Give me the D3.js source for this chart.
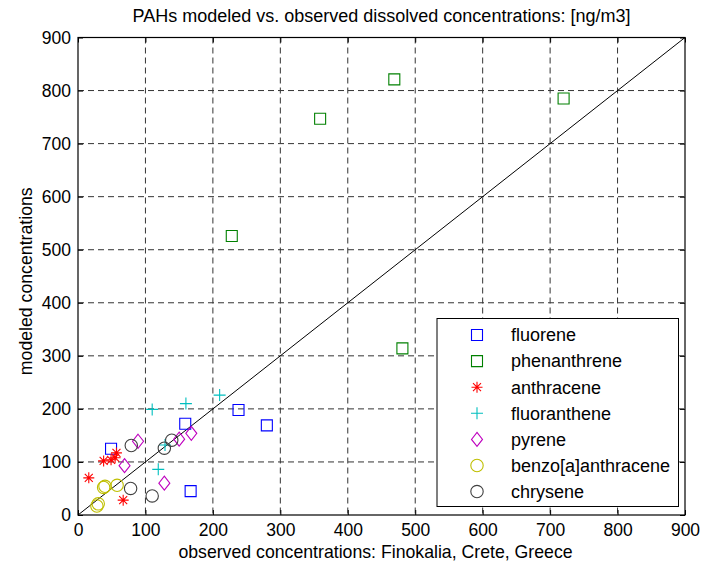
<!DOCTYPE html>
<html>
<head>
<meta charset="utf-8">
<script src="https://cdn.jsdelivr.net/npm/d3@7"></script>
<style>
  body { margin: 0; background: #fff; }
  svg { font-family: "Liberation Sans", Arial, sans-serif; display: block; }
  .tick text { font-size: 17.5px; fill: #000; }
</style>
</head>
<body>
<svg width="701" height="567"></svg>
<script>
// observed (x) vs modeled (y), ng/m3
const fluoreneX = [49, 159, 238, 280, 167];
const fluoreneY = [125, 172, 198, 169, 45];
const phenanthreneX = [228, 359, 469, 720, 481];
const phenanthreneY = [526, 747, 821, 785, 314];
const anthraceneX = [16, 38, 49, 55, 57, 67];
const anthraceneY = [70, 102, 104, 108, 117, 28];
const fluorantheneX = [110, 160, 210, 119, 129];
const fluorantheneY = [199, 210, 226, 86, 132];
const pyreneX = [89, 69, 128, 150, 168];
const pyreneY = [139, 93, 60, 143, 154];
const benzoX = [28, 30, 38, 40, 58];
const benzoY = [17, 21, 52, 54, 56];
const chryseneX = [79, 78, 110, 128, 139];
const chryseneY = [131, 50, 36, 126, 141];

const ticks = [0, 100, 200, 300, 400, 500, 600, 700, 800, 900];

// custom marker shapes in matlab style
const diamond = { draw(ctx) { ctx.moveTo(0, -7); ctx.lineTo(5.5, 0); ctx.lineTo(0, 7); ctx.lineTo(-5.5, 0); ctx.closePath(); } };
const square = { draw(ctx) { ctx.rect(-5.5, -5.5, 11, 11); } };
const circle = { draw(ctx) { ctx.moveTo(6.2, 0); ctx.arc(0, 0, 6.2, 0, 2 * Math.PI); } };
const plus = { draw(ctx) { ctx.moveTo(-6, 0); ctx.lineTo(6, 0); ctx.moveTo(0, -6); ctx.lineTo(0, 6); } };
const star = { draw(ctx) {
  ctx.moveTo(-5.5, 0); ctx.lineTo(5.5, 0); ctx.moveTo(0, -5.5); ctx.lineTo(0, 5.5);
  ctx.moveTo(-4, -4); ctx.lineTo(4, 4); ctx.moveTo(-4, 4); ctx.lineTo(4, -4);
} };

const series = [
  { name: "fluorene", x: fluoreneX, y: fluoreneY, color: "#0000ff", shape: square },
  { name: "phenanthrene", x: phenanthreneX, y: phenanthreneY, color: "#008000", shape: square },
  { name: "anthracene", x: anthraceneX, y: anthraceneY, color: "#ff0000", shape: star },
  { name: "fluoranthene", x: fluorantheneX, y: fluorantheneY, color: "#00bfbf", shape: plus },
  { name: "pyrene", x: pyreneX, y: pyreneY, color: "#bf00bf", shape: diamond },
  { name: "benzo[a]anthracene", x: benzoX, y: benzoY, color: "#bfbf00", shape: circle },
  { name: "chrysene", x: chryseneX, y: chryseneY, color: "#404040", shape: circle }
];

const svg = d3.select("svg"),
    mLeft = 78, mRight = 685, mTop = 37.5, mBottom = 515;

const x = d3.scaleLinear().domain([0, 900]).range([mLeft, mRight]);
const y = d3.scaleLinear().domain([0, 900]).range([mBottom, mTop]);

// grid
const grid = svg.append("g").attr("stroke", "#333").attr("stroke-dasharray", "6,4").attr("stroke-width", 1);
grid.selectAll("line.v").data(ticks.slice(1, -1)).enter().append("line")
    .attr("x1", d => x(d)).attr("x2", d => x(d)).attr("y1", mTop).attr("y2", mBottom);
grid.selectAll("line.h").data(ticks.slice(1, -1)).enter().append("line")
    .attr("y1", d => y(d)).attr("y2", d => y(d)).attr("x1", mLeft).attr("x2", mRight);

// 1:1 line
svg.append("line")
    .attr("x1", x(0)).attr("y1", y(0)).attr("x2", x(900)).attr("y2", y(900))
    .attr("stroke", "#000").attr("stroke-width", 1);

// axes, ticks inward
svg.append("g").attr("transform", `translate(0,${mBottom})`)
    .call(d3.axisBottom(x).tickValues(ticks).tickSizeInner(-5).tickSizeOuter(0).tickPadding(9))
    .call(g => g.select(".domain").remove());
svg.append("g").attr("transform", `translate(${mLeft},0)`)
    .call(d3.axisLeft(y).tickValues(ticks).tickSizeInner(-5).tickSizeOuter(0).tickPadding(7))
    .call(g => g.select(".domain").remove());
svg.append("g").attr("transform", `translate(0,${mTop})`)
    .call(d3.axisTop(x).tickValues(ticks).tickSizeInner(-5).tickSizeOuter(0).tickFormat(""))
    .call(g => g.select(".domain").remove());
svg.append("g").attr("transform", `translate(${mRight},0)`)
    .call(d3.axisRight(y).tickValues(ticks).tickSizeInner(-5).tickSizeOuter(0).tickFormat(""))
    .call(g => g.select(".domain").remove());

svg.append("rect")
    .attr("x", mLeft).attr("y", mTop).attr("width", mRight - mLeft).attr("height", mBottom - mTop)
    .attr("fill", "none").attr("stroke", "#000").attr("stroke-width", 1.2);

// markers
series.forEach(s => {
  svg.append("g").selectAll("path")
    .data(s.x.map((v, i) => [v, s.y[i]]))
    .enter().append("path")
      .attr("transform", d => `translate(${x(d[0])},${y(d[1])})`)
      .attr("d", d3.symbol().type(s.shape))
      .attr("fill", "none")
      .attr("stroke", s.color)
      .attr("stroke-width", 1.1);
});

// legend
const lx = 437, ly = 318.5, lw = 241.5, lh = 188;
const legend = svg.append("g");
legend.append("rect")
    .attr("x", lx).attr("y", ly).attr("width", lw).attr("height", lh)
    .attr("fill", "#fff").attr("stroke", "#000").attr("stroke-width", 1);
const item = legend.selectAll("g.item").data(series).enter().append("g")
    .attr("transform", (d, i) => `translate(0,${335 + i * 26.1})`);
item.append("path")
    .attr("transform", "translate(477,0)")
    .attr("d", d => d3.symbol().type(d.shape)())
    .attr("fill", "none")
    .attr("stroke", d => d.color)
    .attr("stroke-width", 1.1);
item.append("text")
    .attr("x", 511).attr("dy", "0.35em")
    .style("font-size", "18px")
    .text(d => d.name);

// titles
svg.append("text")
    .attr("x", (mLeft + mRight) / 2).attr("y", 22)
    .attr("text-anchor", "middle").style("font-size", "18px")
    .text("PAHs modeled vs. observed dissolved concentrations: [ng/m3]");
svg.append("text")
    .attr("x", (mLeft + mRight) / 2 - 6).attr("y", 558)
    .attr("text-anchor", "middle").style("font-size", "17.7px")
    .text("observed concentrations: Finokalia, Crete, Greece");
svg.append("text")
    .attr("transform", `translate(32,${(mTop + mBottom) / 2 + 5}) rotate(-90)`)
    .attr("text-anchor", "middle").style("font-size", "17.7px")
    .text("modeled concentrations");
</script>
</body>
</html>
